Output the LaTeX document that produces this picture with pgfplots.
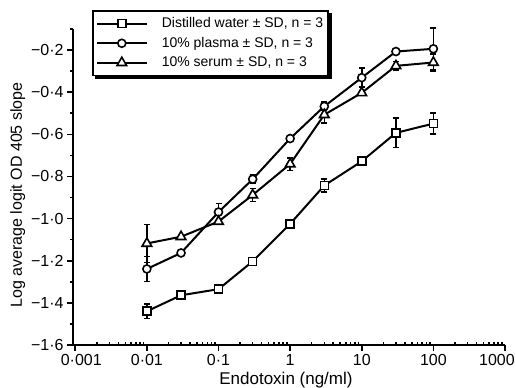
\documentclass[border=0pt]{standalone}
\usepackage{pgfplots}
\pgfplotsset{compat=1.18}
\usepackage{pgfplotstable}
\usepackage{fontspec}
\setmainfont{Liberation Sans}

\pgfplotstableread{
x y e
0.01 -1.440 0.035
0.03 -1.364 0
0.1 -1.335 0.02
0.3 -1.203 0
1 -1.025 0
3 -0.843 0.03
10 -0.728 0
30 -0.593 0.07
100 -0.549 0.05
}\water

\pgfplotstableread{
x y e
0.01 -1.239 0.06
0.03 -1.163 0
0.1 -0.969 0.04
0.3 -0.813 0.02
1 -0.620 0
3 -0.467 0.02
10 -0.331 0.045
30 -0.207 0.015
100 -0.194 0.1
}\plasma

\pgfplotstableread{
x y e
0.01 -1.118 0.09
0.03 -1.086 0
0.1 -1.014 0
0.3 -0.888 0.03
1 -0.741 0.03
3 -0.507 0.04
10 -0.403 0
30 -0.275 0.02
100 -0.259 0.04
}\serum

\pgfplotsset{
  errstyle/.style={forget plot, draw=none, mark=none,
    error bars/.cd, y dir=both, y explicit,
    error bar style={draw=black, line width=1.6bp},
    error mark options={draw=black, rotate=90, mark size=3bp, line width=1.6bp}},
  ser/.style={black, line width=2bp, mark options={fill=white, solid, line width=1.6bp}},
}

\begin{document}
\begin{tikzpicture}
\useasboundingbox (0bp,0bp) rectangle (516bp,388bp);
\begin{axis}[
  at={(73bp,43bp)}, anchor=south west,
  scale only axis, width=432bp, height=316bp,
  xmode=log, xmin=0.00093, xmax=1000, ymin=-1.6, ymax=-0.1,
  clip=false,
  axis lines*=left,
  axis line style={line width=2bp},
  xtick={0.001,0.01,0.1,1,10,100,1000},
  xticklabels={\hspace*{12bp}0·001,0·01,0·1,1,10,100,\hspace*{-16bp}1000},
  minor xtick={0.002,0.003,0.004,0.005,0.006,0.007,0.008,0.009,
    0.02,0.03,0.04,0.05,0.06,0.07,0.08,0.09,
    0.2,0.3,0.4,0.5,0.6,0.7,0.8,0.9,
    2,3,4,5,6,7,8,9,
    20,30,40,50,60,70,80,90,
    200,300,400,500,600,700,800,900},
  ytick={-1.6,-1.4,-1.2,-1.0,-0.8,-0.6,-0.4,-0.2},
  yticklabels={−1·6,−1·4,−1·2,−1·0,−0·8,−0·6,−0·4,−0·2},
  minor ytick={-1.5,-1.3,-1.1,-0.9,-0.7,-0.5,-0.3,-0.1},
  tick align=outside,
  major tick length=6bp, minor tick length=3bp,
  tick style={line width=1.6bp, black},
  minor x tick style={yshift=3bp},
  ticklabel style={font=\fontsize{16bp}{19bp}\selectfont},
  xlabel={Endotoxin (ng/ml)},
  ylabel={Log average logit OD 405 slope},
  xlabel style={at={(axis description cs:0.493,-0.11)}, anchor=center, font=\fontsize{17bp}{20bp}\selectfont},
  ylabel style={at={(axis description cs:-0.128,0.475)}, anchor=center, rotate=0, font=\fontsize{16bp}{19bp}\selectfont},
  legend style={at={(axis description cs:0.044,1.06)}, anchor=north west,
    draw=black, line width=1.6bp, fill=white, name=legbox,
    font=\fontsize{14bp}{17bp}\selectfont,
    inner xsep=3bp, inner ysep=5bp, row sep=4bp,
    /tikz/every odd column/.append style={column sep=12bp}},
  legend cell align=left,
  legend image code/.code={\draw[mark repeat=2,mark phase=2,#1,line width=2bp] plot coordinates {(0bp,0bp) (25bp,0bp) (50bp,0bp)};},
]
\addplot[errstyle] table[x=x,y=y,y error=e]{\water};
\addplot[errstyle] table[x=x,y=y,y error=e]{\plasma};
\addplot[errstyle] table[x=x,y=y,y error=e]{\serum};
\addplot[ser, mark=square*, mark size=4bp] table[x=x,y=y]{\water};
\addlegendentry{Distilled water ± SD, n = 3}
\addplot[ser, mark=*, mark size=4bp] table[x=x,y=y]{\plasma};
\addlegendentry{10\% plasma ± SD, n = 3}
\addplot[ser, mark=triangle*, mark size=5.5bp] table[x=x,y=y]{\serum};
\addlegendentry{10\% serum ± SD, n = 3}
\end{axis}
\draw[line width=3bp, black] ([xshift=3bp,yshift=-1.5bp]legbox.south west) -- ([xshift=1.5bp,yshift=-1.5bp]legbox.south east) -- ([xshift=1.5bp,yshift=-3bp]legbox.north east);
\end{tikzpicture}
\end{document}
